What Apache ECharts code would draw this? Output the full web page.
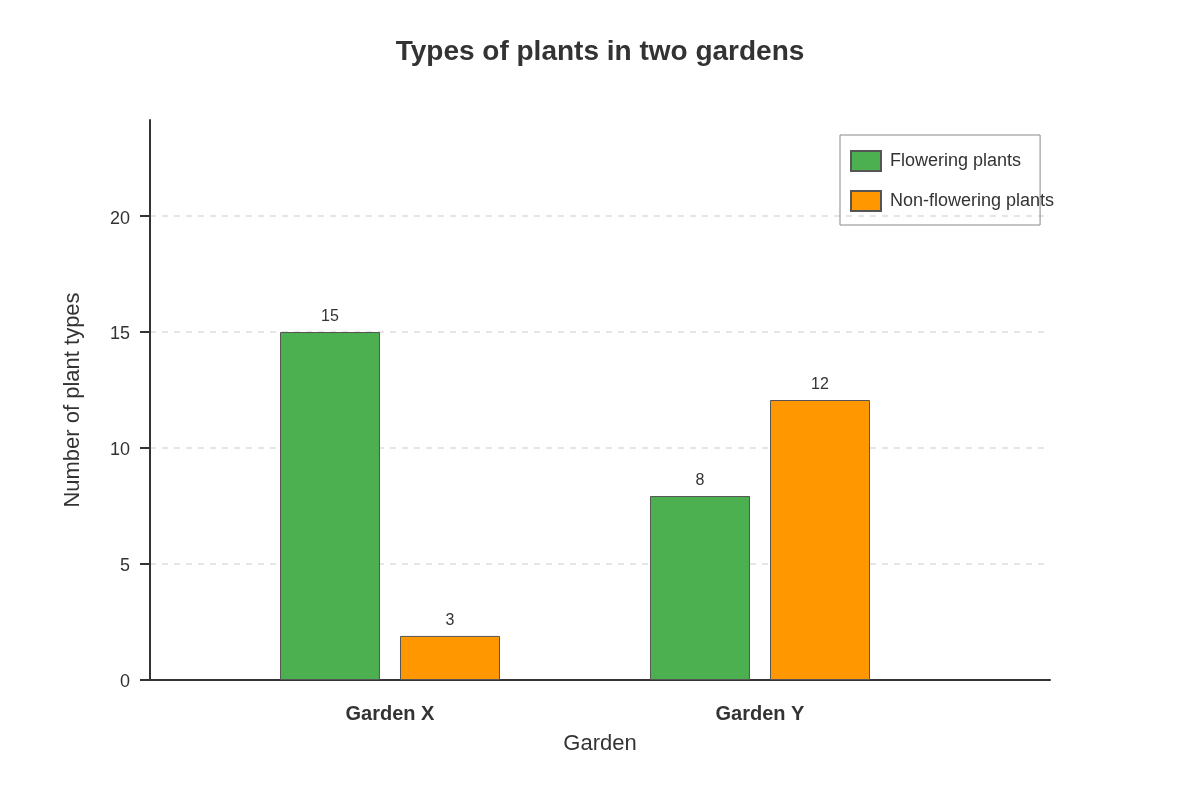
<!DOCTYPE html>
<html>
<head>
<meta charset="utf-8">
<script src="https://cdn.jsdelivr.net/npm/echarts@6/dist/echarts.min.js"></script>
<style>
  html, body { margin: 0; padding: 0; background: #fff; }
  #main { width: 1200px; height: 800px; }
</style>
</head>
<body>
<div id="main"></div>
<script>
// data
var gardens = ['Garden X', 'Garden Y']
var gardenPos = [0, 1]
var flowering = [15, 7.93]
var nonFlowering = [1.9, 12.07]
// numbers printed above the bars
var floweringLabels = ['15', '8']
var nonFloweringLabels = ['3', '12']
var yTicks = [0, 5, 10, 15, 20]

var font = 'Liberation Sans, Arial, sans-serif'

function toPoints(values) {
    var arr = []
    for (var i = 0; i < values.length; i++) {
        arr.push([gardenPos[i], values[i]])
    }
    return arr
}

var myChart = echarts.init(document.getElementById('main'))
var option = {
    backgroundColor: '#fff',
    textStyle: { fontFamily: font },
    title: {
        text: 'Types of plants in two gardens',
        left: 'center',
        top: 33,
        textStyle: { fontSize: 28, fontWeight: 'bold', color: '#333', fontFamily: font }
    },
    legend: {
        data: ['Flowering plants', 'Non-flowering plants'],
        orient: 'vertical',
        left: 840,
        top: 135,
        padding: [15, -14, 13, 10],
        itemWidth: 30,
        itemHeight: 20,
        itemGap: 18,
        icon: 'rect',
        borderColor: '#888',
        borderWidth: 1,
        textStyle: { fontSize: 18, color: '#333', fontFamily: font, padding: [0, 0, 0, 4] }
    },
    grid: { left: 150, right: 150, top: 120, bottom: 120 },
    xAxis: {
        type: 'value',
        min: -0.6486,
        max: 1.7838,
        name: 'Garden',
        nameLocation: 'middle',
        nameGap: 53,
        nameTextStyle: { fontSize: 22, color: '#333', fontFamily: font },
        axisLine: { show: true, lineStyle: { color: '#333', width: 2 } },
        axisTick: { show: false },
        splitLine: { show: false },
        axisLabel: {
            customValues: gardenPos,
            formatter: function (v) { return gardens[Math.round(v)] },
            fontSize: 20,
            fontWeight: 'bold',
            color: '#333',
            margin: 24,
            fontFamily: font
        }
    },
    yAxis: {
        type: 'value',
        min: 0,
        max: 24.14,
        name: 'Number of plant types',
        nameLocation: 'middle',
        nameGap: 66,
        nameTextStyle: { fontSize: 22, color: '#333', fontFamily: font },
        axisLine: { show: true, onZero: false, lineStyle: { color: '#333', width: 2 } },
        axisTick: { show: true, customValues: yTicks, length: 10, lineStyle: { color: '#333', width: 2 } },
        axisLabel: {
            customValues: yTicks,
            margin: 20,
            formatter: function (v) { return '{t|' + v + '}' },
            rich: {
                t: { fontSize: 18, color: '#333', fontFamily: font, padding: [5, 0, 0, 0] }
            }
        },
        splitLine: {
            show: true,
            lineStyle: { color: '#ddd', type: [6, 6], width: 1.5 }
        }
    },
    series: [
        {
            name: 'Flowering plants',
            type: 'bar',
            barWidth: 100,
            barGap: '20%',
            data: toPoints(flowering),
            itemStyle: { color: '#4caf50', borderColor: '#555', borderWidth: 1 },
            label: {
                show: true,
                position: 'top',
                distance: 7,
                fontSize: 16,
                color: '#333',
                fontFamily: font,
                formatter: function (p) { return floweringLabels[p.dataIndex] }
            }
        },
        {
            name: 'Non-flowering plants',
            type: 'bar',
            barWidth: 100,
            barGap: '20%',
            data: toPoints(nonFlowering),
            itemStyle: { color: '#ff9800', borderColor: '#555', borderWidth: 1 },
            label: {
                show: true,
                position: 'top',
                distance: 7,
                fontSize: 16,
                color: '#333',
                fontFamily: font,
                formatter: function (p) { return nonFloweringLabels[p.dataIndex] }
            }
        }
    ]
}
myChart.setOption(option)
</script>
</body>
</html>
